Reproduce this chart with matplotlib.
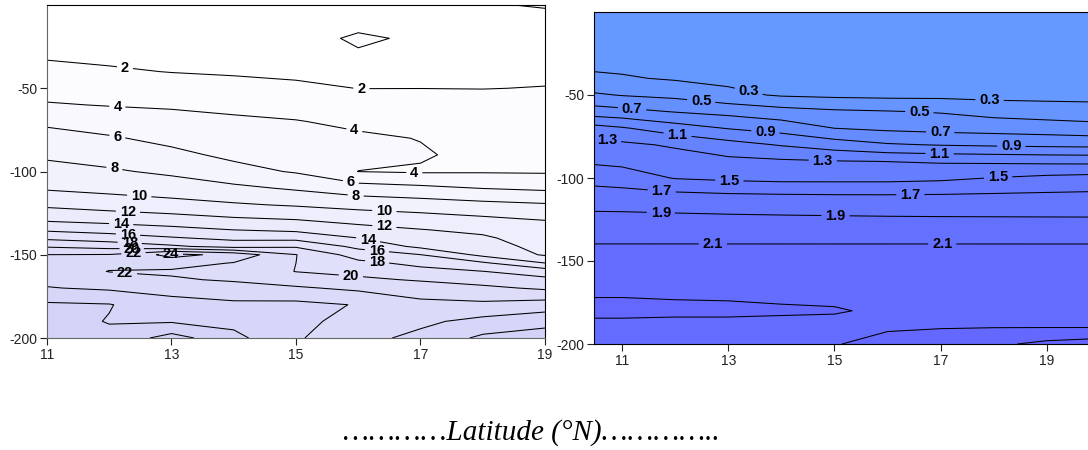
import numpy as np
import matplotlib.pyplot as plt
from matplotlib.colors import LinearSegmentedColormap, Normalize

plt.rcParams['font.family'] = ['Liberation Sans', 'DejaVu Sans']
plt.rcParams['axes.unicode_minus'] = False

# ---------------- left panel data (latitude x depth) ----------------
left_lat = [11, 12, 13, 14, 15, 16, 17, 18, 19]
left_depth = [0, -10, -20, -30, -40, -50, -60, -70, -80, -90, -100, -110, -120,
              -130, -135, -140, -145, -150, -155, -160, -165, -170, -180, -190, -200]
left_z = [
    [0.6, 0.6, 0.5, 0.5, 0.5, 0.5, 0.5, 1.9, 2.1],
    [1.0, 0.95, 0.85, 0.8, 0.9, 1.6, 1.2, 1.5, 1.6],
    [1.4, 1.3, 1.2, 1.1, 1.5, 2.2, 1.8, 1.6, 1.5],
    [1.8, 1.6, 1.5, 1.4, 1.5, 1.85, 1.8, 1.7, 1.6],
    [2.44, 2.21, 1.95, 1.8, 1.7, 1.75, 1.9, 1.8, 1.8],
    [3.26, 3.06, 2.86, 2.6, 2.28, 1.98, 1.99, 1.98, 2.03],
    [4.15, 3.91, 3.77, 3.53, 3.21, 2.78, 2.65, 2.38, 2.39],
    [5.63, 5.06, 4.64, 4.32, 4.09, 3.59, 3.29, 2.75, 2.74],
    [6.71, 6.2, 5.49, 4.95, 4.67, 4.31, 3.94, 3.11, 3.1],
    [7.67, 7.2, 6.47, 5.59, 5.25, 4.4, 4.2, 3.47, 3.45],
    [8.7, 8.24, 7.65, 6.64, 5.83, 3.98, 3.8, 3.84, 3.8],
    [9.78, 9.41, 9.0, 8.43, 7.75, 6.86, 6.43, 5.95, 5.64],
    [11.6, 11.1, 10.67, 10.22, 9.8, 9.33, 9.0, 8.56, 8.21],
    [14.02, 13.6, 13.14, 12.57, 12.27, 11.56, 11.1, 10.64, 10.13],
    [15.67, 15.17, 14.6, 13.98, 13.6, 12.75, 12.07, 11.56, 10.55],
    [17.6, 17.0, 16.2, 15.54, 15.4, 14.02, 12.8, 12.3, 11.0],
    [19.8, 19.25, 18.33, 17.27, 17.75, 15.5, 13.55, 12.8, 11.4],
    [22.02, 22.1, 24.6, 23.4, 20.05, 17.1, 16.03, 13.5, 11.8],
    [22.5, 22.4, 22.8, 21.9, 20.0, 18.5, 17.5, 16.3, 14.02],
    [23.0, 21.95, 21.75, 21.4, 19.95, 19.4, 18.6, 18.03, 17.1],
    [23.5, 22.7, 22.2, 21.8, 21.03, 20.4, 19.8, 19.2, 18.45],
    [24.1, 23.7, 23.3, 22.7, 22.25, 21.6, 21.03, 20.4, 19.7],
    [26.3, 26.1, 24.7, 24.4, 24.5, 23.9, 22.5, 22.4, 22.9],
    [26.8, 25.9, 25.8, 25.37, 24.3, 23.6, 23.6, 24.6, 25.4],
    [27.0, 26.5, 28.8, 26.6, 24.1, 23.4, 24.5, 26.4, 26.9],
]
left_levels = [2, 4, 6, 8, 10, 12, 14, 16, 18, 20, 22, 24, 26, 28]
left_fill_levels = [0, 2, 4, 6, 8, 10, 12, 14, 16, 18, 20, 22, 24, 26, 28, 30]

# where the labels sit on the lines (lat, depth)
left_label_at = {
    2: [(12.25, -38.6), (16.05, -50.6)],
    4: [(12.13, -61.6), (15.94, -74.6), (16.9, -102.0)],
    6: [(12.13, -79.2), (15.88, -106.5)],
    8: [(12.08, -98.5), (15.96, -113.9)],
    10: [(12.48, -115.5), (16.42, -123.5)],
    12: [(12.3, -124.5), (16.42, -132.9)],
    14: [(12.19, -132.5), (16.16, -140.5)],
    16: [(12.3, -138.5), (16.3, -147.5)],
    18: [(12.33, -141.9), (16.3, -155.5)],
    20: [(12.36, -145.5), (15.88, -163.4)],
    22: [(12.39, -149.5), (12.25, -162.4)],
    24: [(12.99, -150.5)],
}

# ---------------- right panel data ----------------
right_lat = [10, 11, 12, 13, 14, 15, 16, 17, 18, 19, 20]
right_depth = [0, -10, -20, -30, -40, -50, -60, -70, -80, -90, -100,
               -110, -120, -130, -140, -150, -160, -170, -180, -190, -200]
right_z = [
    [0.15, 0.15, 0.14, 0.13, 0.12, 0.12, 0.12, 0.12, 0.12, 0.12, 0.12],
    [0.18, 0.17, 0.16, 0.15, 0.14, 0.14, 0.14, 0.14, 0.14, 0.14, 0.14],
    [0.21, 0.2, 0.19, 0.18, 0.17, 0.16, 0.16, 0.16, 0.16, 0.16, 0.16],
    [0.25, 0.24, 0.23, 0.21, 0.2, 0.19, 0.19, 0.19, 0.19, 0.19, 0.19],
    [0.36, 0.32, 0.28, 0.25, 0.24, 0.22, 0.22, 0.21, 0.21, 0.21, 0.21],
    [0.56, 0.49, 0.45, 0.35, 0.28, 0.26, 0.25, 0.25, 0.24, 0.24, 0.24],
    [0.82, 0.76, 0.69, 0.64, 0.575, 0.53, 0.51, 0.486, 0.43, 0.4, 0.38],
    [1.23, 1.12, 0.99, 0.89, 0.82, 0.699, 0.66, 0.637, 0.62, 0.6, 0.57],
    [1.39, 1.34, 1.275, 1.175, 1.086, 1.0, 0.92, 0.89, 0.87, 0.855, 0.845],
    [1.49, 1.45, 1.395, 1.35, 1.33, 1.31, 1.298, 1.28, 1.27, 1.257, 1.25],
    [1.65, 1.6, 1.49, 1.46, 1.44, 1.44, 1.44, 1.46, 1.506, 1.546, 1.57],
    [1.78, 1.77, 1.74, 1.716, 1.705, 1.699, 1.698, 1.703, 1.714, 1.723, 1.73],
    [1.901, 1.897, 1.888, 1.879, 1.872, 1.867, 1.861, 1.858, 1.857, 1.856, 1.855],
    [2.0, 2.0, 1.998, 1.996, 1.993, 1.99, 1.989, 1.987, 1.985, 1.983, 1.982],
    [2.103, 2.103, 2.103, 2.103, 2.103, 2.103, 2.103, 2.103, 2.103, 2.103, 2.103],
    [2.16, 2.16, 2.16, 2.16, 2.15, 2.15, 2.15, 2.15, 2.15, 2.15, 2.15],
    [2.23, 2.22, 2.22, 2.22, 2.21, 2.2, 2.2, 2.2, 2.2, 2.2, 2.2],
    [2.29, 2.29, 2.285, 2.28, 2.27, 2.27, 2.24, 2.24, 2.24, 2.24, 2.24],
    [2.34, 2.34, 2.33, 2.33, 2.32, 2.31, 2.28, 2.27, 2.27, 2.27, 2.27],
    [2.25, 2.25, 2.25, 2.25, 2.25, 2.26, 2.29, 2.295, 2.297, 2.298, 2.298],
    [2.24, 2.22, 2.21, 2.21, 2.2, 2.295, 2.33, 2.36, 2.46, 2.55, 2.6],
]
right_levels = [0.3, 0.5, 0.7, 0.9, 1.1, 1.3, 1.5, 1.7, 1.9, 2.1, 2.3, 2.5]
right_fill_levels = [0.1, 0.3, 0.5, 0.7, 0.9, 1.1, 1.3, 1.5, 1.7, 1.9, 2.1, 2.3, 2.5, 2.7]

right_label_at = {
    0.3: [(13.37, -50.0), (17.92, -54.0)],
    0.5: [(12.49, -54.0), (16.6, -59.8)],
    0.7: [(11.19, -58.4), (16.99, -74.4)],
    0.9: [(13.7, -72.4), (18.33, -81.0)],
    1.1: [(12.05, -73.0), (16.98, -85.8)],
    1.3: [(10.73, -74.4), (14.78, -89.0)],
    1.5: [(13.02, -103.8), (18.08, -99.4)],
    1.7: [(11.75, -106.8), (16.43, -110.0)],
    1.9: [(11.73, -120.6), (15.02, -122.0)],
    2.1: [(12.71, -140.0), (17.03, -140.0)],
}

fig = plt.figure(figsize=(10.88, 4.5), dpi=100)

ax1 = fig.add_axes([47 / 1088, 112 / 450, 498 / 1088, 333 / 450])
ax2 = fig.add_axes([594 / 1088, 106 / 450, 506 / 1088, 332 / 450])

lav = LinearSegmentedColormap.from_list('lav', ['#FFFFFF', '#D3D3F8'])
blu = LinearSegmentedColormap.from_list('blu', ['#6699FF', '#6464FF'])


def draw_panel(ax, lat, depth, z, fill_levels, levels, label_at, cmap, norm, fmt):
    z = np.array(z)
    ax.contourf(lat, depth, z, levels=fill_levels, cmap=cmap, norm=norm)
    ax.set_ylim(-200, 0)
    for lvl in levels:
        cs = ax.contour(lat, depth, z, levels=[lvl], colors='black', linewidths=0.75)
        if lvl in label_at:
            texts = ax.clabel(cs, manual=label_at[lvl], fmt=fmt, inline=True,
                              inline_spacing=4, fontsize=10.5)
            for t in texts:
                t.set_fontweight('bold')
                t.set_rotation(0)
    ax.set_yticks([-50, -100, -150, -200])
    ax.set_xticks([11, 13, 15, 17, 19])
    ax.tick_params(direction='out', length=5, width=0.8, labelsize=10,
                   colors='#222222', pad=2)


ax1.set_xlim(11, 19)
ax2.set_xlim(10.473, 20.0)
ax2.set_ylim(-200, 0)
ax1.set_ylim(-200, 0)

draw_panel(ax1, left_lat, left_depth, left_z, left_fill_levels, left_levels,
           left_label_at, lav, Normalize(1, 27), '%d')
draw_panel(ax2, right_lat, right_depth, right_z, right_fill_levels, right_levels,
           right_label_at, blu, Normalize(0.2, 2.6), '%.1f')

for s in ['left', 'bottom']:
    ax1.spines[s].set_color('#666666')
for s in ['top', 'right']:
    ax1.spines[s].set_color('black')
for s in ax2.spines.values():
    s.set_color('black')

fig.text(531 / 1088, 10 / 450, '\u2026\u2026\u2026\u2026Latitude (\u00b0N)\u2026\u2026\u2026\u2026..',
         ha='center', va='baseline', fontsize=21, style='italic',
         family=['Liberation Serif', 'DejaVu Serif'])

plt.savefig('out.png', dpi=100)
